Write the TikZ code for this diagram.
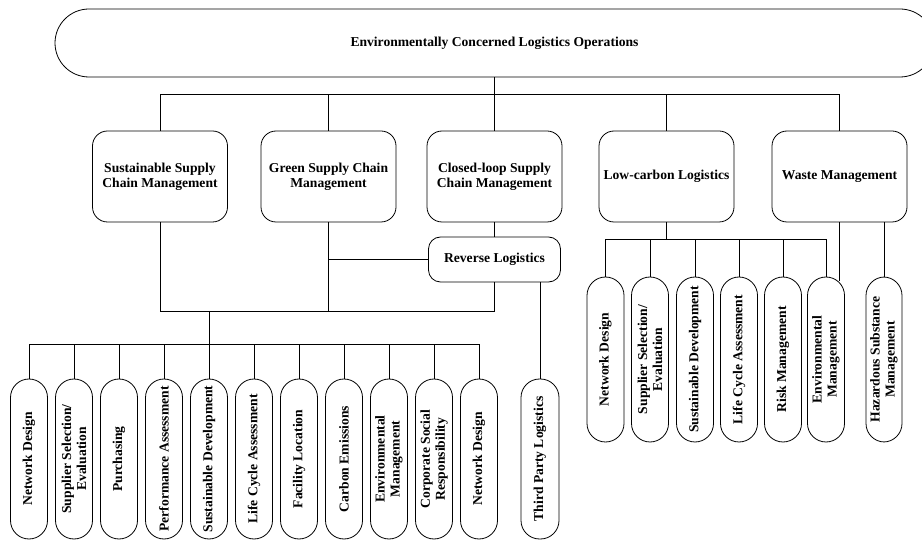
\documentclass[tikz,border=0pt]{standalone}
\usepackage{fontspec}
\setmainfont{Liberation Serif}
\tikzset{
  x=1pt, y=-1pt,
  every node/.style={font=\fontsize{13.6}{15}\selectfont\bfseries},
  wire/.style={draw=black, line width=0.8pt},
  midbox/.style={draw, line width=0.8pt, rounded corners=15pt, minimum width=135pt,
                 minimum height=91pt, align=center, inner sep=2pt},
  leafbox/.style={draw, line width=0.8pt, rounded corners=18.5pt, minimum width=37pt,
                  inner sep=0pt},
  leafL/.style={leafbox, minimum height=160pt},
  leafR/.style={leafbox, minimum height=165pt},
  leaftext/.style={rotate=90, align=center, inner sep=0pt},
}
\begin{document}
\begin{tikzpicture}
\useasboundingbox (0,0) rectangle (922,545);

% root
\node[draw, line width=0.8pt, rounded corners=34pt, minimum width=879pt, minimum height=68pt]
  (top) at (494.5,43) {Environmentally Concerned Logistics Operations};

% second level
\node[midbox] (ss) at (160,176.5) {Sustainable Supply\\Chain Management};
\node[midbox] (gs) at (328.5,176.5) {Green Supply Chain\\Management};
\node[midbox] (cl) at (494.5,176.5) {Closed-loop Supply\\Chain Management};
\node[midbox] (lc) at (666.5,176.5) {Low-carbon Logistics};
\node[midbox] (wm) at (839.5,176.5) {Waste Management};
\node[draw, line width=0.8pt, rounded corners=12pt, minimum width=132pt, minimum height=45pt]
  (rl) at (494.5,259.5) {Reverse Logistics};

% leaves under the supply chain branches
\foreach \i/\t in {1/Network Design, 2/{Supplier Selection/\\Evaluation}, 3/Purchasing,
    4/Performance Assessment, 5/Sustainable Development, 6/Life Cycle Assessment,
    7/Facility Location, 8/Carbon Emissions, 9/{Environmental\\Management},
    10/{Corporate Social\\Responsibility}, 11/Network Design} {
  \node[leafL] (l\i) at ({29+45*(\i-1)},459) {};
  \node[leaftext] at (l\i) {\t};
}
\node[leafL, minimum width=38pt] (tp) at (540,459) {};
\node[leaftext] at (tp) {Third Party Logistics};

% leaves under low-carbon logistics and waste management
\foreach \i/\x/\t in {1/605.5/Network Design, 2/650/{Supplier Selection/\\Evaluation},
    3/695/Sustainable Development, 4/739/Life Cycle Assessment,
    5/783/Risk Management, 6/826/{Environmental\\Management}} {
  \node[leafR] (r\i) at (\x,359.5) {};
  \node[leaftext] at (r\i) {\t};
}
\node[leafR, minimum width=36pt] (hz) at (884,359.5) {};
\node[leaftext] at (hz) {Hazardous Substance\\Management};

% bus lines
\coordinate (h1) at (0,94);
\coordinate (h2) at (0,311);
\coordinate (h3) at (0,344);
\coordinate (h4) at (0,239);
\coordinate (j) at (209,311);
\coordinate (wmend) at (839.5,281);

% root to second level
\draw[wire] (top.south -| cl.north) -- (cl.north);
\draw[wire] (ss.north) -- (ss.north |- h1) -- (wm.north |- h1) -- (wm.north);
\foreach \n in {gs,lc} \draw[wire] (\n.north) -- (\n.north |- h1);

% supply chain branches
\draw[wire] (cl.south) -- (rl.north);
\draw[wire] (gs.south) -- (gs.south |- h2);
\draw[wire] (gs.south |- rl.west) -- (rl.west);
\draw[wire] (ss.south) -- (ss.south |- h2) -- (rl.south |- h2) -- (rl.south);
\draw[wire] (j) -- (j |- h3);
\draw[wire] (l1.north |- h3) -- (l11.north |- h3);
\foreach \i in {1,...,11} \draw[wire] (l\i.north) -- (l\i.north |- h3);
\draw[wire] (rl.south -| tp.north) -- (tp.north);

% low-carbon and waste branches
\draw[wire] (lc.south) -- (lc.south |- h4);
\draw[wire] (r1.north |- h4) -- (r6.north |- h4);
\foreach \i in {1,...,6} \draw[wire] (r\i.north) -- (r\i.north |- h4);
\draw[wire] (wm.south) -- (wmend);
\draw[wire] (hz.north |- wm.south) -- (hz.north);
\end{tikzpicture}
\end{document}
